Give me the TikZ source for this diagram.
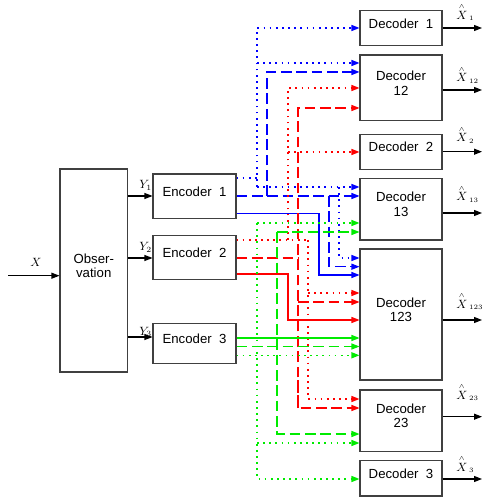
\documentclass[tikz,border=0pt]{standalone}
\usepackage{amsmath}
\usepackage{fontspec}
\setmainfont{Liberation Sans}
\usetikzlibrary{arrows.meta,fit}
\definecolor{gr}{RGB}{0,235,0}
\newcommand\hx[1]{${\overset{\scriptscriptstyle\wedge}{X}}_{\,\scriptscriptstyle #1}$}
\begin{document}
\begin{tikzpicture}[x=0.75pt,y=-0.75pt,
  blk/.style={draw=black!75, line width=0.8pt, inner sep=0pt, align=center,
    font=\fontsize{9.9}{10.8}\selectfont},
  tip/.style={-{Triangle[length=6pt,width=4.5pt]}},
  ln/.style={line width=0.9pt},
  dotl/.style={line width=1pt, dash pattern=on 1.3pt off 3.3pt},
  dashl/.style={ln, dash pattern=on 8pt off 3.5pt},
  B/.style={draw=blue}, R/.style={draw=red}, G/.style={draw=gr},
  outl/.style={draw=black, line width=0.8pt, tip},
  lbl/.style={inner sep=0pt, font=\fontsize{9}{10}\selectfont}]
\useasboundingbox (0,0) rectangle (483,498);

% blocks
\node[blk, fit={(60,169) (127.5,372)}] (obs) {Obser-\\vation};
\node[blk, fit={(153,174) (236,218.3)}] (enc1) {Encoder\ \ 1};
\node[blk, fit={(153,235.7) (236,279.3)}] (enc2) {Encoder\ \ 2};
\node[blk, fit={(153,323.3) (236,363.3)}] (enc3) {Encoder\ \ 3};
\node[blk, fit={(360,10.7) (442,45.7)}] (dec1) {Decoder\ \ 1};
\node[blk, fit={(360,55) (442,120.7)}] (dec12) {Decoder\\12};
\node[blk, fit={(360,134.3) (442,169.3)}] (dec2) {Decoder\ \ 2};
\node[blk, fit={(360,178.3) (442,240)}] (dec13) {Decoder\\13};
\node[blk, fit={(360,249) (442,380)}] (dec123) {Decoder\\123};
\node[blk, fit={(360,390) (442,451.7)}] (dec23) {Decoder\\23};
\node[blk, fit={(360,460.7) (442,496)}] (dec3) {Decoder\ \ 3};

% input and observations
\coordinate (xin) at (8,275.7);
\draw[outl] (xin) -- (obs.west|-xin);
\node[lbl, anchor=base] (lx) at (36,267) {$X$};
\draw[outl] (obs.east|-0,196) -- (enc1.west|-0,196);
\draw[outl] (obs.east|-0,258) -- (enc2.west|-0,258);
\draw[outl] (obs.east|-0,337) -- (enc3.west|-0,337);
\node[lbl, anchor=base west] (ly1) at (139,189) {$Y_{1}$};
\node[lbl, anchor=base west] (ly2) at (139,251) {$Y_{2}$};
\node[lbl, anchor=base west] (ly3) at (139,335) {$Y_{3}$};

% encoder 1 (blue)
\draw[B,dotl] (enc1.east|-0,178) -- (257,178);
\draw[B,dotl,tip] (257,187) |- (dec1.west|-0,28);
\draw[B,dotl,tip] (257,63) -- (dec12.west|-0,63);
\draw[B,dotl,tip] (257,187) -- (dec13.west|-0,187);
\draw[B,dotl,tip] (339,187) |- (dec123.west|-0,258);
\draw[B,dashl,tip] (enc1.east|-0,196) -- (dec13.west|-0,196);
\draw[B,dashl,tip] (267,196) |- (dec12.west|-0,72);
\draw[B,dashl,tip] (329,196) |- (dec123.west|-0,266.7);
\draw[B,ln,tip] (enc1.east|-0,213.5) -| (319,275) -- (dec123.west|-0,275);

% encoder 2 (red)
\draw[R,dotl] (enc2.east|-0,240) -- (308,240);
\draw[R,dotl,tip] (288,240) |- (dec12.west|-0,88);
\draw[R,dotl,tip] (288,152) -- (dec2.west|-0,152);
\draw[R,dotl,tip] (308,240) |- (dec23.west|-0,399);
\draw[R,dotl,tip] (308,293) -- (dec123.west|-0,293);
\draw[R,dashl] (enc2.east|-0,258) -- (298,258);
\draw[R,dashl,tip] (298,408) |- (dec12.west|-0,108);
\draw[R,dashl,tip] (298,302) -- (dec123.west|-0,302);
\draw[R,dashl,tip] (298,380) |- (dec23.west|-0,408);
\draw[R,ln,tip] (enc2.east|-0,274) -| (288,320) -- (dec123.west|-0,320);

% encoder 3 (green)
\draw[G,ln,tip] (enc3.east|-0,338) -- (dec123.west|-0,338);
\draw[G,dashl,tip] (enc3.east|-0,346.5) -- (dec123.west|-0,346.5);
\draw[G,dashl,tip] (277,232) |- (dec23.west|-0,434);
\draw[G,dashl,tip] (277,232) -- (dec13.west|-0,232);
\draw[G,dotl,tip] (enc3.east|-0,355.3) -- (dec123.west|-0,355.3);
\draw[G,dotl,tip] (257,223) |- (dec3.west|-0,479);
\draw[G,dotl,tip] (257,223) -- (dec13.west|-0,223);
\draw[G,dotl,tip] (257,443) -- (dec23.west|-0,443);

% outputs
\coordinate (o1) at (482,28);
\coordinate (o12) at (482,90);
\coordinate (o2) at (482,151.7);
\coordinate (o13) at (482,213);
\coordinate (o123) at (482,320);
\coordinate (o23) at (482,416.7);
\coordinate (o3) at (482,479);
\draw[outl] (dec1.east|-o1) -- (o1);
\draw[outl] (dec12.east|-o12) -- (o12);
\draw[outl] (dec2.east|-o2) -- (o2);
\draw[outl] (dec13.east|-o13) -- (o13);
\draw[outl] (dec123.east|-o123) -- (o123);
\draw[outl] (dec23.east|-o23) -- (o23);
\draw[outl] (dec3.east|-o3) -- (o3);
\node[lbl, anchor=base west] (l1) at (456,19.3) {\hx{1}};
\node[lbl, anchor=base west] (l12) at (456,81.7) {\hx{12}};
\node[lbl, anchor=base west] (l2) at (456,141.7) {\hx{2}};
\node[lbl, anchor=base west] (l13) at (456,201) {\hx{13}};
\node[lbl, anchor=base west] (l123) at (456,308.3) {\hx{123}};
\node[lbl, anchor=base west] (l23) at (456,399) {\hx{23}};
\node[lbl, anchor=base west] (l3) at (456,471) {\hx{3}};
\end{tikzpicture}
\end{document}
